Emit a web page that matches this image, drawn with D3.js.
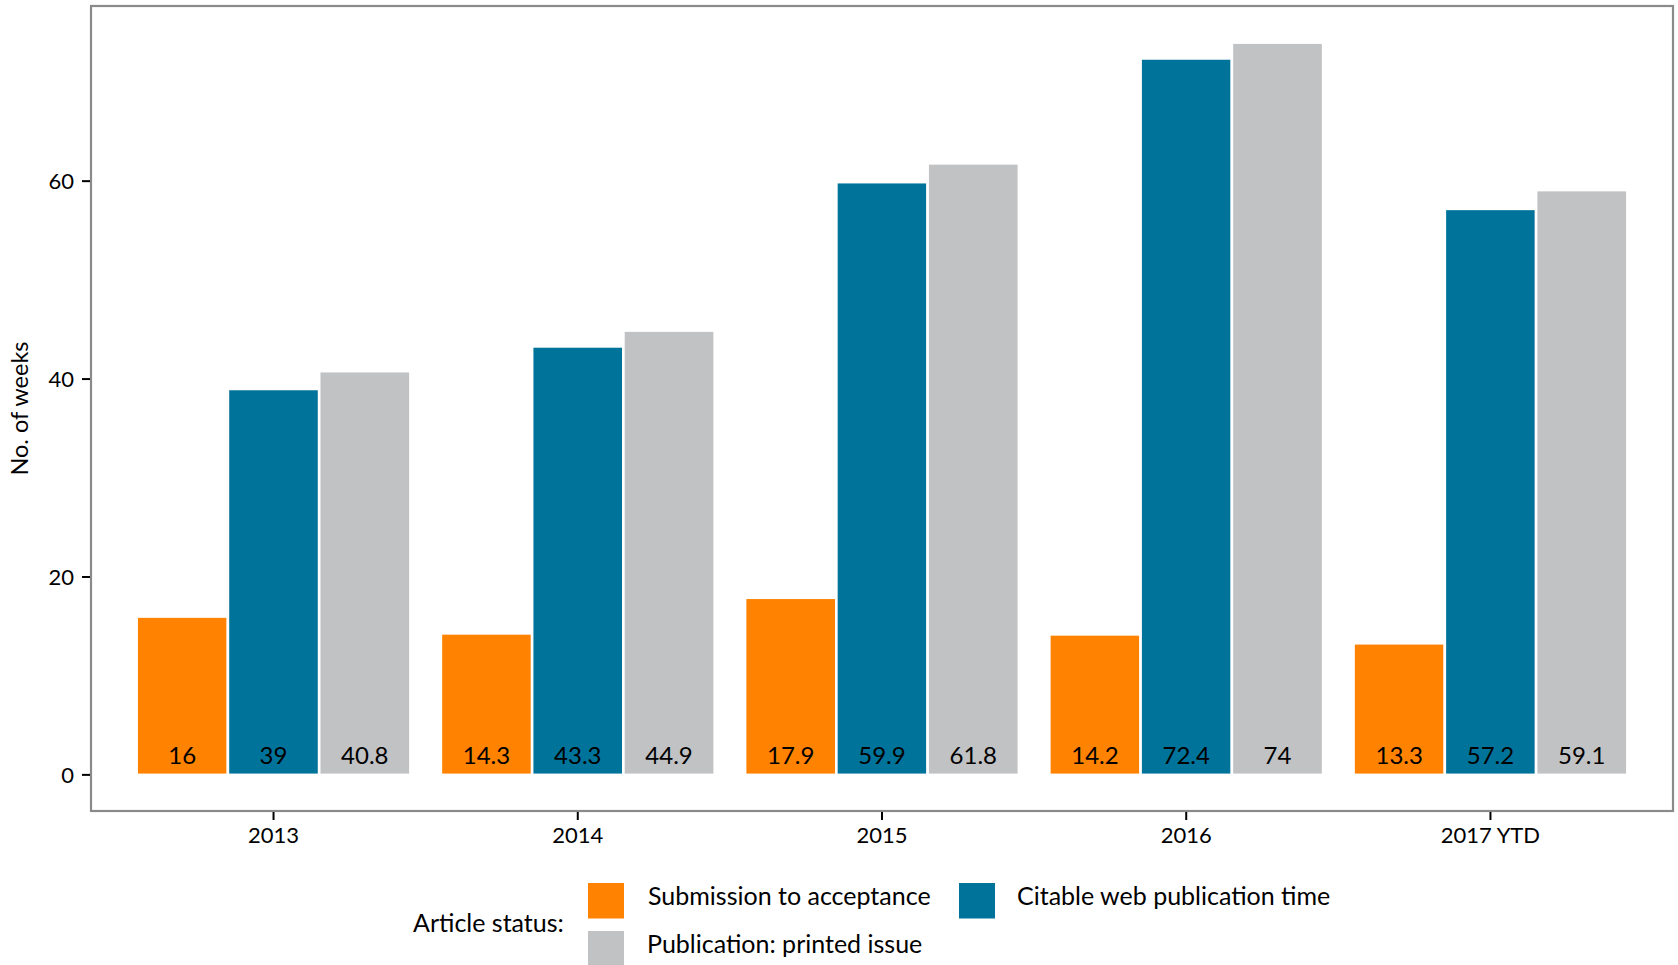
<!DOCTYPE html>
<html><head><meta charset="utf-8">
<script src="https://cdn.jsdelivr.net/npm/d3@7"></script>
<style>
html,body{margin:0;padding:0;background:#fff;}
text{font-family:Lato,"Open Sans",sans-serif;fill:#000;}
</style></head>
<body>
<svg id="chart" width="1678" height="965"></svg>
<script>
const categories = ["2013","2014","2015","2016","2017 YTD"];
const seriesNames = ["Submission to acceptance","Citable web publication time","Publication: printed issue"];
const submission = [16, 14.3, 17.9, 14.2, 13.3];
const citable = [39, 43.3, 59.9, 72.4, 57.2];
const printed = [40.8, 44.9, 61.8, 74, 59.1];
const yTicks = [0, 20, 40, 60];
const colors = ["#FF8200", "#00739A", "#C1C2C4"];

const seriesValues = [submission, citable, printed];
const svg = d3.select("#chart");
const panel = {l: 91, t: 6, r: 1673, b: 811};

const y = d3.scaleLinear().domain([-3.65, 77.7]).range([panel.b, panel.t]);
// ggplot-like discrete expansion: 0.6 units each side
const x = d3.scalePoint().domain(categories).range([panel.l, panel.r]).padding(0.6);
const unit = x.step();
const dodgeW = unit * 0.9;
const slot = d3.scaleBand().domain(d3.range(3)).range([-dodgeW/2, dodgeW/2]).padding(0);

// bars (white outline like the reference)
const rows = [];
categories.forEach((c, i) => seriesValues.forEach((s, j) => rows.push({c, j, v: s[i]})));
svg.append("g").selectAll("rect").data(rows).join("rect")
  .attr("x", d => x(d.c) + slot(d.j))
  .attr("width", slot.bandwidth())
  .attr("y", d => y(d.v))
  .attr("height", d => y(0) - y(d.v))
  .attr("fill", d => colors[d.j])
  .attr("stroke", "#fff").attr("stroke-width", 2.6);

// value labels
svg.append("g").selectAll("text").data(rows).join("text")
  .attr("x", d => x(d.c) + slot(d.j) + slot.bandwidth()/2)
  .attr("y", y(0) - 11)
  .attr("text-anchor", "middle")
  .style("font-size", "24px")
  .text(d => d.v);

// panel border
svg.append("rect").attr("x", panel.l).attr("y", panel.t)
  .attr("width", panel.r - panel.l).attr("height", panel.b - panel.t)
  .attr("fill", "none").attr("stroke", "#8a8a8a").attr("stroke-width", 2.2);

// y axis
const yAx = svg.append("g");
yTicks.forEach(t => {
  yAx.append("line").attr("x1", panel.l - 9).attr("x2", panel.l - 1).attr("y1", y(t)).attr("y2", y(t))
    .attr("stroke", "#000").attr("stroke-width", 2);
  yAx.append("text").attr("x", panel.l - 17).attr("y", y(t)).attr("dy", "0.36em")
    .attr("text-anchor", "end").style("font-size", "22px").text(t);
});
// x axis
const xAx = svg.append("g");
categories.forEach(c => {
  xAx.append("line").attr("x1", x(c)).attr("x2", x(c)).attr("y1", panel.b + 1).attr("y2", panel.b + 9)
    .attr("stroke", "#000").attr("stroke-width", 2);
  xAx.append("text").attr("x", x(c)).attr("y", 843).attr("text-anchor", "middle")
    .style("font-size", "22px").text(c);
});
// y title
svg.append("text").attr("transform", `translate(28,${(panel.t+panel.b)/2}) rotate(-90)`)
  .attr("text-anchor", "middle").style("font-size", "23.5px").text("No. of weeks");

// legend
const lg = svg.append("g");
lg.append("text").attr("x", 413).attr("y", 932).style("font-size", "25px").text("Article status:");
const legendItems = [
  {j: 0, kx: 588, ky: 883, tx: 648, ty: 905},
  {j: 1, kx: 959, ky: 883, tx: 1017, ty: 905},
  {j: 2, kx: 588, ky: 931, tx: 647, ty: 953}
];
legendItems.forEach(it => {
  lg.append("rect").attr("x", it.kx).attr("y", it.ky).attr("width", 36).attr("height", 35.5).attr("fill", colors[it.j]);
  lg.append("text").attr("x", it.tx).attr("y", it.ty).style("font-size", "25px").text(seriesNames[it.j]);
});
</script>
</body></html>
